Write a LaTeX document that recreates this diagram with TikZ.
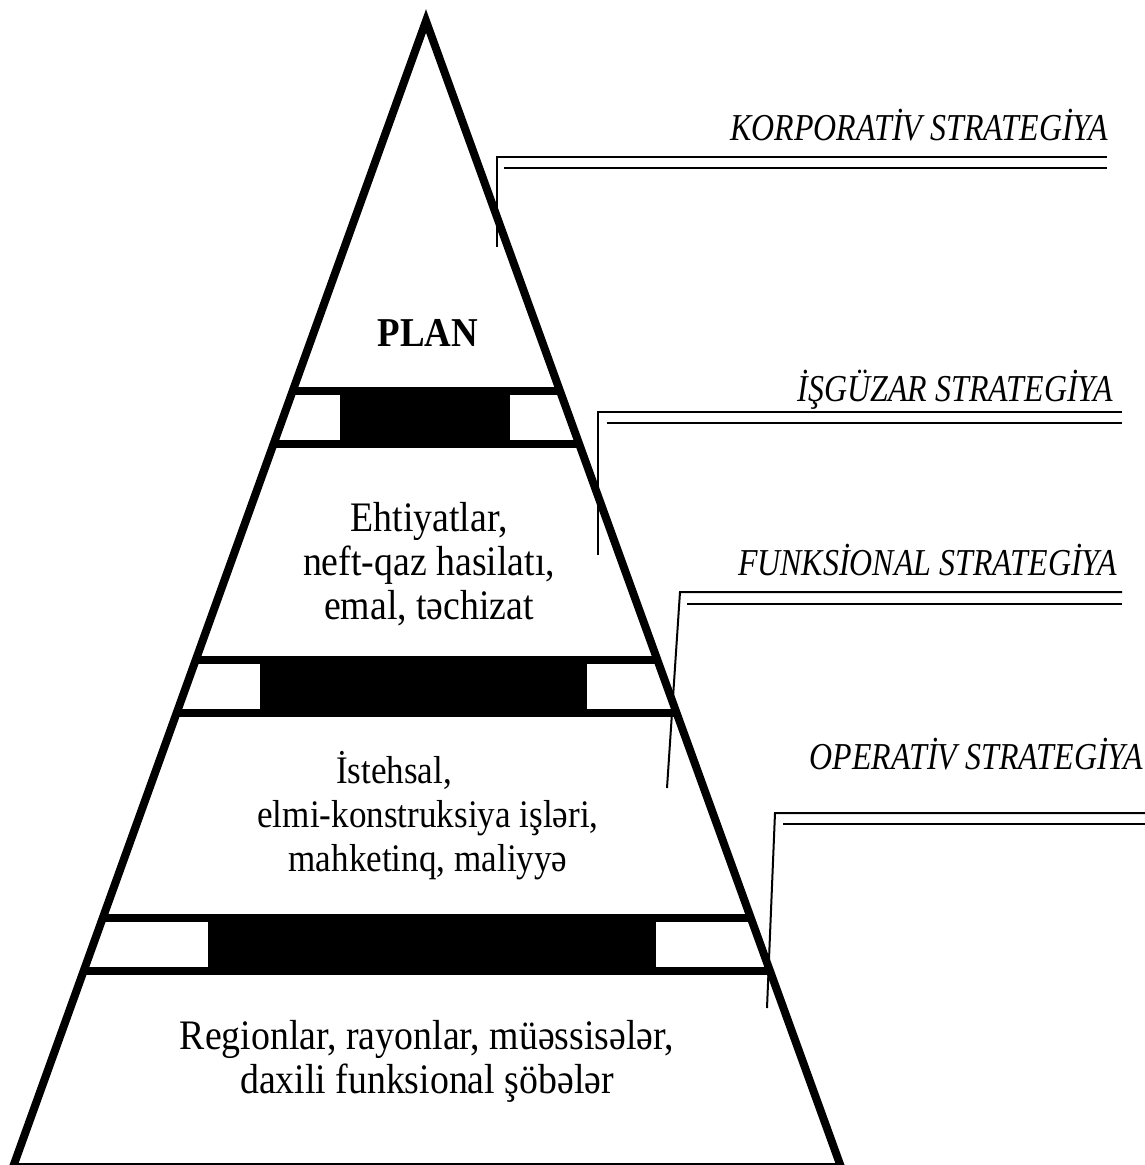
\documentclass[tikz,border=0pt]{standalone}
\usepackage{fontspec}
\setmainfont{Liberation Serif}[FakeStretch=0.9]
\newfontfamily\labelfont{Liberation Serif}[FakeStretch=0.84]
\usepackage{tikz}

\begin{document}
\begin{tikzpicture}[x=1pt, y=-1pt, line join=miter,
		edge/.style={line width=8pt},
		band/.style={line width=8pt},
		leader/.style={line width=2pt},
		level/.style={align=center, font=\fontsize{42}{44}\selectfont},
		strategy/.style={anchor=base east, inner sep=0pt, font=\labelfont\itshape\fontsize{38}{40}\selectfont}]
		\useasboundingbox (0,0) rectangle (1145,1165);
		
		\coordinate (Apex)      at (426, 21);
		\coordinate (BaseLeft)  at (13, 1167);
		\coordinate (BaseRight) at (841, 1167);
		
		% bands between the levels
		\begin{scope}
			\clip (Apex) -- (BaseLeft) -- (BaseRight) -- cycle;
			\draw[band] (0, 391) -- (1145, 391);
			\draw[band] (0, 444) -- (1145, 444);
			\fill (340, 387) rectangle (510, 448);
			
			\draw[band] (0, 660) -- (1145, 660);
			\draw[band] (0, 713) -- (1145, 713);
			\fill (260, 656) rectangle (587, 717);
			
			\draw[band] (0, 918) -- (1145, 918);
			\draw[band] (0, 971) -- (1145, 971);
			\fill (208, 914) rectangle (656, 975);
		\end{scope}
		
		\draw[edge] (Apex) -- (BaseLeft) -- (BaseRight) -- cycle;
		
		\node[level, font=\bfseries\fontsize{41}{44}\selectfont] (Plan) at (428, 333) {PLAN};
		\node[level] (Reserves)  at (429, 564)  {Ehtiyatlar,\\neft-qaz hasilatı,\\emal, təchizat};
		\node[level, font=\fontsize{39}{44}\selectfont] (Functions) at (428, 816) {İstehsal,\hspace*{68pt}\\elmi-konstruksiya işləri,\\mahketinq, maliyyə};
		\node[level] (Units)     at (427, 1061) {Regionlar, rayonlar, müəssisələr,\\daxili funksional şöbələr};
		
		% strategy leaders
		\coordinate (CorpFoot) at (497, 247);
		\coordinate (CorpTop)  at (497, 157);
		\coordinate (CorpEnd)  at (1107, 157);
		\coordinate (CorpIn)   at (504, 168);
		\coordinate (CorpInEnd) at (1107, 168);
		
		\coordinate (BusFoot) at (598, 555);
		\coordinate (BusTop)  at (598, 412);
		\coordinate (BusEnd)  at (1122, 412);
		\coordinate (BusIn)   at (607, 423);
		\coordinate (BusInEnd) at (1122, 423);
		
		\coordinate (FunFoot) at (667, 788);
		\coordinate (FunTop)  at (680, 592);
		\coordinate (FunEnd)  at (1122, 592);
		\coordinate (FunIn)   at (687, 604);
		\coordinate (FunInEnd) at (1122, 604);
		
		\coordinate (OpFoot) at (767, 1008);
		\coordinate (OpTop)  at (775, 813);
		\coordinate (OpEnd)  at (1150, 813);
		\coordinate (OpIn)   at (783, 824);
		\coordinate (OpInEnd) at (1150, 824);
		
		\draw[leader] (CorpFoot) -- (CorpTop) -- (CorpEnd);
		\draw[leader] (CorpIn)   -- (CorpInEnd);
		\draw[leader] (BusFoot)  -- (BusTop) -- (BusEnd);
		\draw[leader] (BusIn)    -- (BusInEnd);
		\draw[leader] (FunFoot)  -- (FunTop) -- (FunEnd);
		\draw[leader] (FunIn)    -- (FunInEnd);
		\draw[leader] (OpFoot)   -- (OpTop) -- (OpEnd);
		\draw[leader] (OpIn)     -- (OpInEnd);
		
		\node[strategy] (Corporate)  at (1108, 140) {KORPORATİV STRATEGİYA};
		\node[strategy] (Business)   at (1113, 401) {İŞGÜZAR STRATEGİYA};
		\node[strategy] (Functional) at (1117, 575) {FUNKSİONAL STRATEGİYA};
		\node[strategy] (Operative)  at (1143, 769) {OPERATİV STRATEGİYA};
	\end{tikzpicture}
\end{document}
